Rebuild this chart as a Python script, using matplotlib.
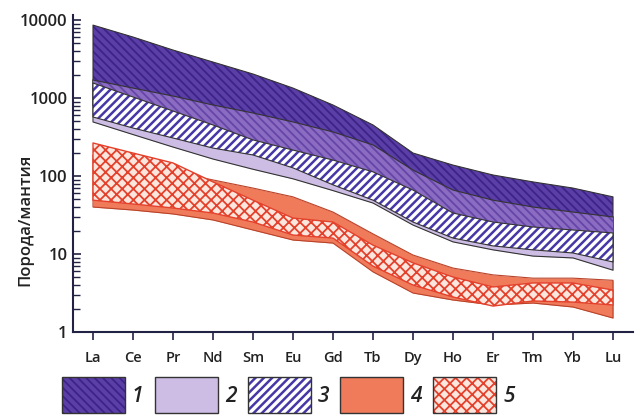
import numpy as np
import matplotlib.pyplot as plt
from matplotlib.patches import Rectangle

plt.rcParams['font.family'] = ['Open Sans', 'DejaVu Sans']
plt.rcParams['font.weight'] = 'semibold'
plt.rcParams['text.color'] = '#222222'
plt.rcParams['xtick.color'] = '#222222'
plt.rcParams['ytick.color'] = '#222222'

elements = ['La', 'Ce', 'Pr', 'Nd', 'Sm', 'Eu', 'Gd', 'Tb', 'Dy', 'Ho', 'Er', 'Tm', 'Yb', 'Lu']

# 1 - тёмная область
b1_hi = [8600, 6050, 4120, 2890, 2030, 1340, 813, 451, 197, 138, 103, 84, 70, 54]
b1_lo = [800, 600, 450, 320, 230, 165, 110, 70, 40, 23, 18, 16, 14, 12]
# 2 - светло-сиреневая
b2_hi = [1700, 1340, 1060, 813, 642, 493, 367, 250, 119, 66, 49, 40, 34.5, 29.8]
b2_lo = [493, 340, 235, 165, 122, 92, 65, 45, 23.5, 14.3, 11.3, 9.4, 8.9, 6.2]
# 3 - штриховка
b3_hi = [1556, 1030, 681, 451, 290, 215, 160, 113, 66, 33.5, 25.7, 22.2, 20.3, 18.6]
b3_lo = [571, 412, 307, 228, 186, 127, 77, 49, 25.7, 16.0, 12.7, 11.3, 10.3, 7.9]
# 4 - оранжевая
b4_hi = [186, 151, 113, 89, 70, 54, 34.5, 18.1, 9.7, 6.6, 5.4, 4.9, 4.9, 4.6]
b4_lo = [40, 36.6, 32.6, 27.3, 20.3, 15.1, 13.8, 5.9, 3.16, 2.57, 2.22, 2.35, 2.09, 1.51]
# 5 - сетка
b5_hi = [265, 197, 147, 84, 49, 28.9, 25.7, 13.0, 7.7, 5.07, 3.78, 4.25, 4.25, 3.45]
b5_lo = [49, 43.8, 38.9, 33.5, 25.7, 17.5, 16.0, 7.0, 4.0, 2.81, 2.15, 2.5, 2.42, 2.22]

x = np.arange(len(elements))

fig = plt.figure(figsize=(6.39, 4.16), dpi=100)
ax = fig.add_axes([73/639, 84/416, 560/639, 317/416])

dark = '#5c3fa6'
dark_hatch = '#3c2388'
lav = '#cdbde4'
medium = '#8b6cc2'
blue = '#4538a6'
salmon = '#f07b5b'
red = '#e4412c'
pink = '#fbe6de'

def band(lo, hi, face, hatch=None, hcol=None, edge='#333333', z=1, lw=0.8, hlw=1.6):
    plt.rcParams['hatch.linewidth'] = hlw
    ax.fill_between(x, lo, hi, facecolor=face, edgecolor=hcol if hatch else face,
                    hatch=hatch, linewidth=0, zorder=z)
    ax.fill_between(x, lo, hi, facecolor='none', edgecolor=edge, linewidth=lw, zorder=z + 0.1)

band(b2_lo, b2_hi, lav, z=1)
band(b1_lo, b1_hi, dark, '\\\\\\\\', dark_hatch, z=2, hlw=1.3)
# перекрытие 1 и 2
ov_hi = np.minimum(b1_hi, b2_hi)
ov_lo = np.maximum(b1_lo, b2_lo)
ax.fill_between(x, ov_lo, ov_hi, where=ov_hi > ov_lo, facecolor=medium, edgecolor='#6446a8',
                hatch='\\\\\\\\', linewidth=0, zorder=3)
ax.plot(x, b2_hi, color='#333333', lw=0.8, zorder=3.2)
band(b3_lo, b3_hi, 'white', '////', blue, z=4, hlw=1.8)

band(b4_lo, b4_hi, salmon, edge='#b8432a', z=5)
band(b5_lo, b5_hi, pink, 'xxx', red, edge=red, z=6, lw=1.0, hlw=1.3)

ax.set_yscale('log')
ax.set_ylim(1, 11590)
ax.set_xlim(-0.5, 13.5)
ax.set_xticks(x)
ax.set_xticklabels(elements, fontsize=10.5)
ax.set_yticks([1, 10, 100, 1000, 10000])
ax.set_yticklabels(['1', '10', '100', '1000', '10000'], fontsize=12)
ax.tick_params(axis='y', direction='in', length=6, width=1.2, color='#222244', pad=4)
ax.tick_params(axis='y', which='minor', direction='in', length=5, width=1.0, color='#222244')
ax.tick_params(axis='x', direction='out', length=6, width=1.2, color='#222244', pad=8)
for s in ['top', 'right']:
    ax.spines[s].set_visible(False)
for s in ['left', 'bottom']:
    ax.spines[s].set_color('#222244')
    ax.spines[s].set_linewidth(1.5)
ax.set_facecolor('none')

fig.text(25/639, 1 - 220/416, 'Порода/мантия', rotation=90, ha='center', va='center', fontsize=12)

# легенда
legend_items = [(dark, '\\\\\\\\', dark_hatch, 1.3), (lav, None, None, 1), ('white', '////', blue, 1.8),
                (salmon, None, None, 1), (pink, 'xxx', red, 1.3)]
box_x = [62, 155, 248, 340, 433]
for i, (face, h, hc, hlw) in enumerate(legend_items):
    plt.rcParams['hatch.linewidth'] = hlw
    r = Rectangle((box_x[i]/639, 1 - 413/416), 63/639, 36/416, transform=fig.transFigure,
                  facecolor=face, edgecolor=hc if h else face, hatch=h, linewidth=0)
    fig.add_artist(r)
    fig.add_artist(Rectangle((box_x[i]/639, 1 - 413/416), 63/639, 36/416, transform=fig.transFigure,
                             facecolor='none', edgecolor='#333333', linewidth=1.0))
    fig.text((box_x[i] + 70)/639, 1 - 396/416, str(i + 1), style='italic', fontsize=15,
             ha='left', va='center')

fig.savefig('out.png', dpi=100)
